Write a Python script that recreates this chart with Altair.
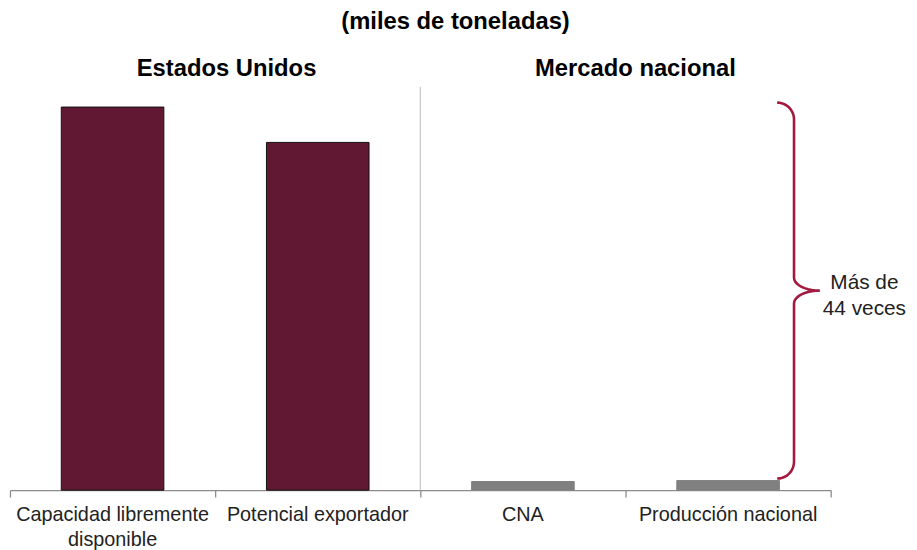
import math
import altair as alt
import pandas as pd

# ---- data ----
categorias = ["Capacidad libremente\ndisponible", "Potencial exportador", "CNA", "Producción nacional"]
valores = [2005, 1820, 45, 50]
grupos = ["Estados Unidos", "Estados Unidos", "Mercado nacional", "Mercado nacional"]
encabezados = ["Estados Unidos", "Mercado nacional"]
titulo = "(miles de toneladas)"
nota = "Más de\n44 veces"

# ---- layout constants ----
W, H = 828, 452
YMAX = 2345
PX_X = W / 4.0          # pixels per x unit
PX_Y = H / YMAX         # pixels per y unit
FONT = "Liberation Sans"
MAROON = "#611832"
GRAY = "#808080"
BRACE = "#A3193F"

bars = pd.DataFrame({
    "categoria": categorias,
    "valor": valores,
    "grupo": grupos,
    "pos": list(range(len(categorias))),
})
bars["x0"] = bars["pos"] + 0.25
bars["x1"] = bars["pos"] + 0.75
bars["xc"] = bars["pos"] + 0.5
bars["cero"] = 0

x_scale = alt.Scale(domain=[0, 4], nice=False, zero=False)
y_scale = alt.Scale(domain=[0, YMAX], nice=False)

x_axis = alt.Axis(values=[0, 1, 2, 3, 4], labels=False, title=None, grid=False,
                  domainColor="#8c8c8c", tickColor="#8c8c8c", tickSize=7,
                  domainWidth=1.3, tickWidth=1.3)


def X(field):
    return alt.X(field, scale=x_scale, axis=x_axis)


def Y(field):
    return alt.Y(field, scale=y_scale, axis=None)


is_us = alt.datum.grupo == encabezados[0]

bar_layer = alt.Chart(bars).mark_bar(strokeWidth=1).encode(
    x=X("x0:Q"),
    x2="x1:Q",
    y=Y("valor:Q"),
    y2="cero:Q",
    color=alt.condition(is_us, alt.value(MAROON), alt.value(GRAY)),
    stroke=alt.condition(is_us, alt.value("#111111"), alt.value(GRAY)),
)

label_layer = alt.Chart(bars).mark_text(
    font=FONT, fontSize=20, color="#222222", baseline="top", align="center",
    lineBreak="\n", lineHeight=25, dy=15,
).encode(
    x=X("xc:Q"),
    y=Y("cero:Q"),
    text="categoria:N",
)

# title and group headings as annotation text
head_df = pd.DataFrame({
    "texto": [titulo] + encabezados,
    "xc": [(459.5 - 10) / PX_X, (228.5 - 10) / PX_X, (641 - 10) / PX_X],
    "yv": [(492 - 20) / PX_Y, (492 - 67) / PX_Y, (492 - 67) / PX_Y],
    "tam": [24, 24, 24],
})
head_layer = alt.Chart(head_df).mark_text(
    font=FONT, fontWeight="bold", color="#000000", baseline="middle", align="center",
).encode(
    x=X("xc:Q"),
    y=Y("yv:Q"),
    text="texto:N",
    size=alt.Size("tam:Q", scale=None, legend=None),
)

# divider between groups
div_df = pd.DataFrame({"xd": [2.0], "y0": [0.0], "y1": [(492 - 85) / PX_Y]})
div_layer = alt.Chart(div_df).mark_rule(color="#c8c8c8", strokeWidth=1.2).encode(
    x=X("xd:Q"),
    y=Y("y0:Q"),
    y2="y1:Q",
)

# curly brace spanning the top of the first bar down to "Producción nacional"
top_px = valores[0] * PX_Y + 4.5
bot_px = valores[3] * PX_Y + 2.0
mid_px = (top_px + bot_px) / 2
xv_px = 791.0
r = 17.0
rx, ry = 26.0, 13.0
pts = []


def arc(cx, cy, ax, ay, a0, a1, n=10):
    for k in range(n + 1):
        t = math.radians(a0 + (a1 - a0) * k / n)
        pts.append((cx + ax * math.cos(t), cy + ay * math.sin(t)))


arc(xv_px - r, top_px - r, r, r, 90, 0)
arc(xv_px + rx, mid_px + ry, rx, ry, 180, 270)
arc(xv_px + rx, mid_px - ry, rx, ry, 90, 180)
arc(xv_px - r, bot_px + r, r, r, 0, -90)
brace_df = pd.DataFrame({
    "bx": [p[0] / PX_X for p in pts],
    "by": [p[1] / PX_Y for p in pts],
    "orden": list(range(len(pts))),
})
brace_layer = alt.Chart(brace_df).mark_line(color=BRACE, strokeWidth=2.6).encode(
    x=X("bx:Q"),
    y=Y("by:Q"),
    order="orden:Q",
)

nota_df = pd.DataFrame({"texto": [nota], "nx": [(872 - 10) / PX_X], "ny": [mid_px / PX_Y]})
nota_layer = alt.Chart(nota_df).mark_text(
    font=FONT, fontSize=21, color="#222222", align="center", baseline="middle",
    lineBreak="\n", lineHeight=27, dy=-8,
).encode(
    x=X("nx:Q"),
    y=Y("ny:Q"),
    text="texto:N",
)

chart = alt.layer(
    div_layer, bar_layer, label_layer, head_layer, brace_layer, nota_layer
).properties(
    width=W,
    height=H,
    autosize=alt.AutoSizeParams(type="none"),
    padding={"left": 2, "right": 79, "top": 32, "bottom": 58},
).configure_view(stroke=None)

chart.save("out.html", embed_options={"renderer": "svg", "actions": False})
